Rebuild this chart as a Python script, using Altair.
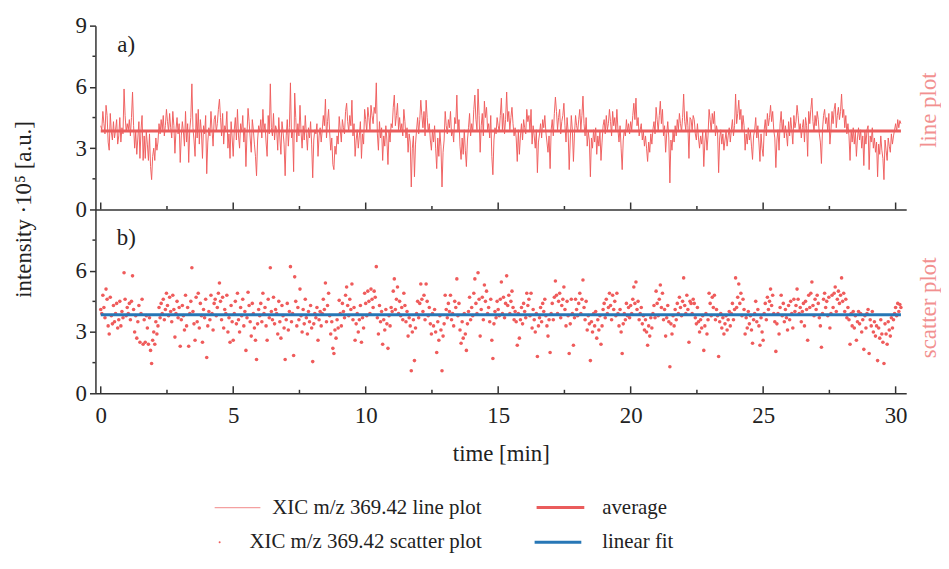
import altair as alt
import numpy as np
import pandas as pd

# ---------------- data ----------------
SAMPLE_STEP_MIN = 0.04  # one scan every 2.4 s

xic_00_05 = [
    4.1, 3.9, 4.8, 4.2, 3.7, 5.1, 4.6, 3.3, 2.9, 4.7, 3.8, 3.4, 4.3, 3.5, 3.9, 4.4, 3.2, 3.6, 4.5, 3.3, 4.0, 3.7, 5.9, 4.6, 3.8,
    4.2, 3.9, 4.4, 3.6, 4.5, 5.75, 4.1, 3.0, 3.8, 2.7, 3.5, 4.3, 2.5, 3.9, 4.6, 2.4, 3.6, 2.5, 3.8, 3.2, 2.4, 3.7, 2.1, 1.46, 2.6,
    3.0, 2.4, 3.5, 2.9, 3.3, 4.2, 3.7, 4.4, 3.9, 4.6, 3.6, 4.1, 4.9, 4.3, 3.8, 4.7, 4.0, 3.5, 4.8, 4.1, 2.75, 3.9, 4.5, 3.7, 4.2,
    2.3, 3.6, 4.3, 3.8, 3.1, 4.8, 3.3, 4.2, 2.3, 3.9, 4.5, 6.15, 4.0, 3.4, 2.6, 4.7, 3.5, 4.9, 3.2, 4.4, 3.8, 2.5, 4.1, 3.7, 4.6,
    1.75, 3.3, 4.0, 3.6, 4.8, 3.9, 3.1, 4.4, 4.6, 3.8, 4.2, 4.9, 5.4, 4.5, 3.6, 4.7, 3.2, 4.1, 3.9, 4.8, 3.0, 3.7, 2.5, 4.3, 3.5,
]
xic_05_10 = [
    2.6, 3.9, 4.5, 3.4, 4.9, 3.6, 3.0, 4.2, 3.8, 4.6, 3.3, 4.0, 2.1, 3.7, 4.95, 4.3, 3.5, 2.8, 4.4, 3.9, 3.2, 2.6, 1.65, 3.4, 4.1,
    3.8, 4.4, 3.5, 4.9, 3.9, 4.2, 3.3, 2.6, 4.6, 3.7, 6.15, 4.0, 3.6, 4.7, 3.4, 4.1, 3.9, 2.9, 4.5, 3.5, 2.7, 4.3, 3.8, 3.2, 1.65,
    3.6, 4.4, 3.1, 4.0, 6.2, 3.5, 3.9, 1.85, 5.7, 4.5, 3.3, 4.2, 3.6, 5.1, 3.8, 3.0, 4.1, 3.4, 4.6, 3.7, 2.9, 4.0, 3.5, 4.3, 3.2,
    1.55, 3.4, 3.9, 3.7, 4.2, 2.6, 3.6, 4.0, 3.3, 3.9, 4.6, 4.1, 5.4, 3.5, 4.3, 4.9, 3.8, 2.9, 3.5, 2.2, 1.95, 3.1, 2.7, 3.6, 3.2,
    4.55, 3.9, 3.3, 4.4, 4.0, 3.7, 4.8, 5.2, 4.3, 3.8, 4.6, 4.1, 5.35, 3.6, 4.2, 2.6, 3.4, 3.9, 3.0, 3.6, 4.3, 2.5, 3.7, 3.2, 4.9,
]
xic_10_15 = [
    4.4, 3.8, 5.0, 4.5, 3.9, 5.1, 4.6, 4.2, 5.0, 4.7, 6.2, 3.7, 2.9, 4.3, 3.5, 4.0, 2.4, 3.6, 3.1, 4.1, 3.4, 2.2, 3.8, 3.3, 4.2,
    4.0, 5.0, 5.6, 4.1, 4.6, 5.2, 3.9, 4.5, 3.8, 4.2, 3.6, 4.9, 4.3, 3.5, 4.0, 2.8, 3.7, 3.3, 1.1, 3.0, 3.6, 1.6, 3.2, 3.9, 4.5,
    3.7, 4.4, 5.35, 4.6, 4.0, 4.8, 3.6, 5.35, 4.5, 3.8, 4.2, 3.4, 2.9, 3.9, 3.3, 4.1, 3.0, 2.0, 3.5, 2.6, 3.8, 3.1, 1.1, 2.8, 3.4,
    4.8, 4.1, 3.7, 4.4, 4.0, 4.8, 3.6, 3.9, 3.3, 4.5, 4.2, 5.6, 3.8, 4.4, 3.1, 2.45, 3.5, 2.7, 3.9, 2.9, 2.1, 3.4, 4.0, 4.7, 3.6,
    4.2, 3.8, 4.9, 5.6, 4.4, 3.9, 5.9, 4.6, 2.8, 4.1, 4.7, 3.6, 5.3, 4.5, 5.0, 3.9, 4.2, 3.5, 4.6, 2.6, 1.7, 3.4, 4.0, 3.7, 4.5,
]
xic_15_20 = [
    4.1, 3.8, 4.6, 5.45, 3.9, 4.7, 3.7, 4.4, 5.75, 4.3, 4.8, 3.9, 4.5, 5.0, 4.2, 3.6, 4.0, 3.5, 2.35, 3.9, 2.7, 3.6, 4.2, 3.4, 4.4,
    4.0, 3.7, 4.9, 4.3, 4.6, 3.8, 4.9, 3.2, 4.1, 3.6, 3.0, 3.9, 1.8, 3.3, 3.7, 4.2, 3.5, 4.4, 4.0, 4.6, 3.8, 3.3, 2.8, 3.6, 2.0,
    3.9, 4.4, 3.6, 4.7, 5.5, 4.8, 3.9, 4.5, 4.9, 3.7, 4.3, 4.6, 5.2, 4.1, 3.3, 4.5, 3.8, 1.95, 3.4, 4.6, 3.9, 2.35, 3.7, 4.6, 4.1,
    3.8, 4.4, 4.9, 3.9, 4.6, 5.55, 4.2, 3.6, 4.5, 3.1, 3.8, 3.4, 1.6, 3.5, 3.0, 3.9, 3.3, 4.0, 2.7, 3.6, 3.1, 3.8, 2.4, 3.3, 4.1,
    4.4, 3.7, 4.6, 3.9, 4.2, 4.9, 4.3, 3.6, 4.8, 4.1, 4.5, 3.8, 4.9, 3.9, 3.3, 4.1, 3.0, 1.95, 3.4, 3.9, 3.6, 4.4, 3.8, 4.2, 3.7,
]
xic_20_25 = [
    4.3, 3.9, 4.6, 5.2, 4.4, 5.45, 4.1, 4.5, 3.6, 3.9, 4.2, 3.4, 3.8, 3.1, 3.6, 3.0, 2.35, 3.3, 2.8, 3.7, 3.2, 3.9, 4.3, 3.7, 5.0,
    4.4, 3.8, 4.6, 5.3, 4.2, 4.9, 3.6, 4.1, 2.8, 3.7, 4.3, 3.5, 1.3, 3.4, 2.9, 3.8, 3.3, 4.1, 3.6, 4.4, 3.9, 4.7, 4.2, 3.8, 4.5,
    5.65, 4.3, 3.9, 4.8, 4.1, 2.5, 4.5, 4.4, 3.9, 4.6, 4.4, 3.7, 3.4, 4.2, 3.5, 3.0, 3.6, 3.2, 3.8, 2.1, 3.3, 3.9, 2.9, 3.6, 4.9,
    4.4, 3.8, 4.7, 4.2, 4.8, 3.6, 4.1, 3.8, 1.8, 3.5, 3.9, 3.2, 3.7, 2.9, 3.4, 3.8, 3.1, 3.6, 4.0, 3.3, 3.9, 4.4, 3.6, 4.1, 5.65,
    4.2, 4.7, 5.35, 4.4, 4.9, 3.8, 4.6, 4.1, 2.9, 3.7, 3.2, 4.0, 3.4, 3.8, 3.1, 2.45, 3.6, 3.9, 4.5, 3.5, 4.1, 3.3, 2.35, 3.7, 3.0,
]
xic_25_30 = [
    2.6, 3.9, 4.4, 3.6, 4.7, 4.1, 4.5, 5.1, 4.3, 4.8, 3.9, 3.5, 2.05, 3.4, 3.9, 2.9, 4.2, 4.8, 3.8, 4.4, 3.5, 4.1, 3.7, 3.1, 4.3,
    3.6, 4.5, 3.9, 3.2, 4.6, 4.0, 4.3, 5.1, 4.6, 3.9, 4.2, 3.5, 4.0, 4.4, 3.3, 4.5, 4.1, 2.6, 4.8, 4.2, 4.9, 5.45, 4.3, 3.8, 4.6,
    4.1, 4.8, 4.4, 3.7, 3.3, 2.25, 3.9, 4.6, 4.9, 4.2, 4.5, 3.8, 4.7, 3.2, 3.9, 4.8, 4.2, 4.9, 5.2, 4.0, 4.6, 5.0, 4.4, 4.8, 5.65,
    4.5, 4.9, 4.0, 4.6, 3.7, 4.2, 3.6, 2.4, 3.9, 3.3, 4.0, 3.2, 3.8, 2.6, 3.5, 4.0, 3.4, 3.9, 3.0, 3.6, 2.15, 3.8, 3.2, 3.9, 4.1,
    1.95, 3.6, 3.3, 4.0, 3.0, 3.5, 2.8, 3.3, 1.6, 3.2, 2.7, 3.6, 2.9, 2.5, 1.46, 3.4, 2.9, 2.4, 3.5, 3.1, 2.8, 3.7, 3.2, 3.6, 3.9,
]
xic_30_end = [4.2, 3.8, 4.4, 4.0, 4.35, 4.2]

x_major = [0, 5, 10, 15, 20, 25, 30]
x_minor = [2.5, 7.5, 12.5, 17.5, 22.5, 27.5]
y_major_top = [0, 3, 6, 9]
y_major_bottom = [0, 3, 6]
y_minor = [1.5, 4.5, 7.5]
panel_tags = ["a)", "b)"]
side_labels = ["line plot", "scatter plot"]
legend_labels = ["XIC m/z 369.42 line plot", "average",
                 "XIC m/z 369.42 scatter plot", "linear fit"]
y_title = "intensity ·10⁵ [a.u.]"
x_title = "time [min]"

# ---------------- derived tables ----------------
intensity = xic_00_05 + xic_05_10 + xic_10_15 + xic_15_20 + xic_20_25 + xic_25_30 + xic_30_end
time_min = [round(i * SAMPLE_STEP_MIN, 2) for i in range(len(intensity))]
df = pd.DataFrame({"t": time_min, "v": intensity})

avg = float(np.mean(intensity))
slope, icpt = np.polyfit(time_min, intensity, 1)
t0, t1 = time_min[0], time_min[-1]
avg_df = pd.DataFrame({"t": [t0, t1], "v": [avg, avg]})
fit_df = pd.DataFrame({"t": [t0, t1], "v": [icpt + slope * t0, icpt + slope * t1]})

tick_df = pd.DataFrame({
    "t": x_major + x_minor,
    "y0": [0.0] * (len(x_major) + len(x_minor)),
    "y1": [0.34] * len(x_major) + [0.17] * len(x_minor),
})
yminor_df = pd.DataFrame({"v": y_minor})

# ---------------- style ----------------
FONT = "Liberation Serif"
FS = 23       # axis labels, titles, panel tags
FS_LEG = 21   # legend text
W, H = 816, 185
DATA_RED = "#ef5b5b"
AVG_RED = "#ea5c5c"
LEG_PINK = "#f4a0a0"
SIDE_PINK = "#f29090"
BLUE = "#2777b6"
AX = "#333333"

xs = alt.Scale(domain=[-0.2, 30.4], nice=False, zero=False)
ys = alt.Scale(domain=[0, 9], nice=False, zero=False)

x_axis_top = alt.Axis(title=None, labels=False, ticks=False, tickSize=0, grid=False, domain=True)
x_axis_bot = alt.Axis(title=x_title, values=x_major, labels=True, ticks=False, tickSize=0,
                      labelPadding=11, titlePadding=16, grid=False, format="d", labelFlush=False)
y_axis_top = alt.Axis(title=None, values=y_major_top, tickSize=6, labelPadding=3, grid=False, format="d")
y_axis_bot = alt.Axis(title=None, values=y_major_bottom, tickSize=6, labelPadding=3, grid=False, format="d")


def text_layer(text, x, y, color="#222222", angle=0, align="center", size=FS):
    return alt.Chart(pd.DataFrame({"label": [text]})).mark_text(
        font=FONT, fontSize=size, color=color, angle=angle, align=align, baseline="middle"
    ).encode(text="label:N", x=alt.value(x), y=alt.value(y))


def seg_layer(x1, x2, y, color, width):
    return alt.Chart(pd.DataFrame({"k": [0]})).mark_rule(color=color, strokeWidth=width).encode(
        x=alt.value(x1), x2=alt.value(x2), y=alt.value(y))


def panel_axes_layers(xa, ya):
    ticks = alt.Chart(tick_df).mark_rule(color=AX, strokeWidth=1.5).encode(
        x=alt.X("t:Q", scale=xs, axis=xa),
        y=alt.Y("y0:Q", scale=ys, axis=ya), y2="y1:Q")
    yminor = alt.Chart(yminor_df).mark_rule(color=AX, strokeWidth=1.5).encode(
        y=alt.Y("v:Q", scale=ys, axis=ya), x=alt.value(-3), x2=alt.value(0))
    return [ticks, yminor]


# ---------------- panel a: line plot ----------------
line = alt.Chart(df).mark_line(color=DATA_RED, strokeWidth=1, opacity=0.95).encode(
    x=alt.X("t:Q", scale=xs, axis=x_axis_top),
    y=alt.Y("v:Q", scale=ys, axis=y_axis_top))
avg_line = alt.Chart(avg_df).mark_line(color=AVG_RED, strokeWidth=3).encode(
    x=alt.X("t:Q", scale=xs, axis=x_axis_top),
    y=alt.Y("v:Q", scale=ys, axis=y_axis_top))

top = alt.layer(
    line, avg_line, *panel_axes_layers(x_axis_top, y_axis_top),
    text_layer(panel_tags[0], 31, 20),
    text_layer(side_labels[0], 839, 85, color=SIDE_PINK, angle=270),
    text_layer(y_title, -72, 185, angle=270),
).properties(width=W, height=H)

# ---------------- panel b: scatter plot ----------------
pts = alt.Chart(df).mark_circle(color=DATA_RED, size=13, opacity=1).encode(
    x=alt.X("t:Q", scale=xs, axis=x_axis_bot),
    y=alt.Y("v:Q", scale=ys, axis=y_axis_bot))
fit_line = alt.Chart(fit_df).mark_line(color=BLUE, strokeWidth=3).encode(
    x=alt.X("t:Q", scale=xs, axis=x_axis_bot),
    y=alt.Y("v:Q", scale=ys, axis=y_axis_bot))

ROW1, ROW2 = 300, 335
legend_dot = alt.Chart(pd.DataFrame({"k": [0]})).mark_circle(color=DATA_RED, size=4, opacity=1).encode(
    x=alt.value(125), y=alt.value(ROW2))

bottom = alt.layer(
    pts, fit_line, *panel_axes_layers(x_axis_bot, y_axis_bot),
    text_layer(panel_tags[1], 31, 29),
    text_layer(side_labels[1], 839, 99, color=SIDE_PINK, angle=270),
    seg_layer(120, 166, ROW1, LEG_PINK, 1.2),
    text_layer(legend_labels[0], 178, ROW1, align="left", size=FS_LEG),
    seg_layer(444, 492, ROW1, AVG_RED, 3),
    text_layer(legend_labels[1], 510, ROW1, align="left", size=FS_LEG),
    legend_dot,
    text_layer(legend_labels[2], 155, ROW2, align="left", size=FS_LEG),
    seg_layer(442, 489, ROW2, BLUE, 3),
    text_layer(legend_labels[3], 510, ROW2, align="left", size=FS_LEG),
).properties(width=W, height=H)

chart = alt.vconcat(top, bottom, spacing=0, bounds="flush").properties(
    padding={"left": 5, "top": 5, "right": 0, "bottom": 0}
).configure_view(stroke=None).configure_axis(
    labelFont=FONT, labelFontSize=FS, titleFont=FONT, titleFontSize=FS, titleFontWeight="normal",
    labelColor="#222222", titleColor="#222222", domainColor=AX, tickColor=AX,
    domainWidth=1.5, tickWidth=1.5,
)

chart.save("out.html", embed_options={"renderer": "svg", "actions": False})
